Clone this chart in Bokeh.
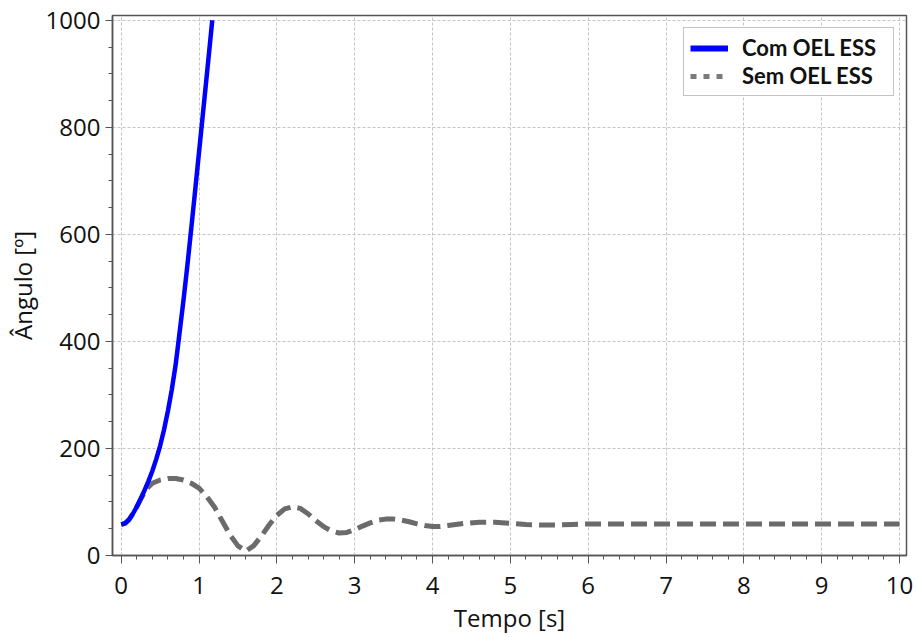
from bokeh.plotting import figure
from bokeh.models import Range1d, Legend, LegendItem, FixedTicker
from bokeh.embed import file_html
from bokeh.resources import INLINE

# --- data ---
com_t = [0.0, 0.05, 0.1, 0.15, 0.2, 0.25, 0.3, 0.35, 0.4, 0.45, 0.5, 0.55, 0.6,
         0.65, 0.7, 0.736, 0.8, 0.85, 0.9, 0.95, 1.0, 1.05, 1.1, 1.17]
com_ang = [58, 60, 67, 78, 91, 106, 122, 139, 158, 180, 205, 235, 270,
           310, 357, 400, 477, 542, 611, 682, 754, 826, 898, 1000]

sem_t = [0.0, 0.05, 0.1, 0.15, 0.2, 0.25, 0.3, 0.35, 0.4, 0.5, 0.6, 0.7, 0.8, 0.9,
         1.0, 1.1, 1.2, 1.3, 1.4, 1.5, 1.6, 1.7, 1.8, 1.9, 2.0, 2.1, 2.2, 2.3,
         2.4, 2.5, 2.6, 2.7, 2.8, 2.9, 3.0, 3.1, 3.2, 3.3, 3.4, 3.5, 3.6, 3.7,
         3.8, 3.9, 4.0, 4.1, 4.2, 4.4, 4.6, 4.8, 5.0, 5.2, 5.4, 5.6, 5.8, 6.0,
         6.5, 7.0, 7.5, 8.0, 8.5, 9.0, 9.5, 10.0]
sem_ang = [58, 60, 67, 78, 91, 105, 118, 128, 135, 141, 144, 144, 141, 135,
           126, 110, 90, 64, 38, 18, 8, 18, 36, 57, 75, 87, 91, 88,
           78, 65, 54, 46, 42, 43, 48, 55, 61, 66, 68, 68, 66, 63,
           59, 56, 54, 54, 56, 60, 62, 62, 60, 58, 57, 57, 58, 59,
           59, 59, 59, 59, 59, 59, 59, 59]

x_ticks = [0, 1, 2, 3, 4, 5, 6, 7, 8, 9, 10]
y_ticks = [0, 200, 400, 600, 800, 1000]
x_minor = [round(i * 0.2, 1) for i in range(51)]
y_minor = [i * 50 for i in range(21)]

label_com = "Com OEL ESS"
label_sem = "Sem OEL ESS"
x_label = "Tempo [s]"
y_label = "Ângulo [º]"

FONT = "Open Sans"

p = figure(width=916, height=637, output_backend="svg", toolbar_location=None,
           x_range=Range1d(-0.112, 10.09), y_range=Range1d(0, 1009),
           min_border_left=112, min_border_right=10, min_border_top=15,
           min_border_bottom=82)
p.background_fill_color = "white"
p.border_fill_color = "white"
p.outline_line_color = "#555555"
p.outline_line_width = 1.5

# grid
for g in (p.xgrid, p.ygrid):
    g.grid_line_color = "#c4c4c4"
    g.grid_line_dash = "3 2"
    g.grid_line_width = 1

# axes
p.xaxis.ticker = FixedTicker(ticks=x_ticks, minor_ticks=x_minor)
p.yaxis.ticker = FixedTicker(ticks=y_ticks, minor_ticks=y_minor)
for ax in (p.xaxis, p.yaxis):
    ax.axis_line_color = "#555555"
    ax.axis_line_width = 1.5
    ax.major_tick_line_color = "#555555"
    ax.minor_tick_line_color = "#555555"
    ax.major_tick_in = 0
    ax.minor_tick_in = 0
    ax.major_label_text_font = FONT
    ax.major_label_text_font_size = "24px"
    ax.major_label_text_color = "#111111"
    ax.axis_label_text_font = FONT
    ax.axis_label_text_font_size = "24px"
    ax.axis_label_text_font_style = "normal"
    ax.axis_label_text_color = "#111111"
p.xaxis.major_tick_out = 8
p.xaxis.minor_tick_out = 4
p.yaxis.major_tick_out = 7
p.yaxis.minor_tick_out = 4
p.xaxis.major_label_standoff = 13
p.yaxis.major_label_standoff = 5
p.xaxis.axis_label = x_label
p.yaxis.axis_label = y_label
p.xaxis.axis_label_standoff = 4
p.yaxis.axis_label_standoff = 4

# lines
r_sem = p.line(sem_t, sem_ang, line_color="#6b6b6b", line_width=5,
               line_dash="16 7", line_cap="butt")
r_com = p.line(com_t, com_ang, line_color="#0000ff", line_width=4.5,
               line_join="round")

# legend proxies (NaN data, legend styling only)
nan = float("nan")
leg_com = p.line([nan], [nan], line_color="#0000ff", line_width=6)
leg_sem = p.line([nan], [nan], line_color="#7a7a7a", line_width=5,
                 line_dash="6 7", line_cap="butt")

legend = Legend(items=[LegendItem(label=label_com, renderers=[leg_com]),
                       LegendItem(label=label_sem, renderers=[leg_sem])],
                location="top_right")
legend.margin = 12
legend.padding = 6
legend.spacing = 1
legend.glyph_width = 38
legend.glyph_height = 26
legend.label_height = 26
legend.label_width = 145
legend.label_standoff = 14
legend.label_text_font = "Lato"
legend.label_text_font_style = "bold"
legend.label_text_font_size = "22px"
legend.label_text_color = "#111111"
legend.border_line_color = "#888888"
legend.border_line_width = 1.5
legend.background_fill_color = "white"
legend.background_fill_alpha = 1
p.add_layout(legend)

open("out.html", "w").write(file_html(p, INLINE))
